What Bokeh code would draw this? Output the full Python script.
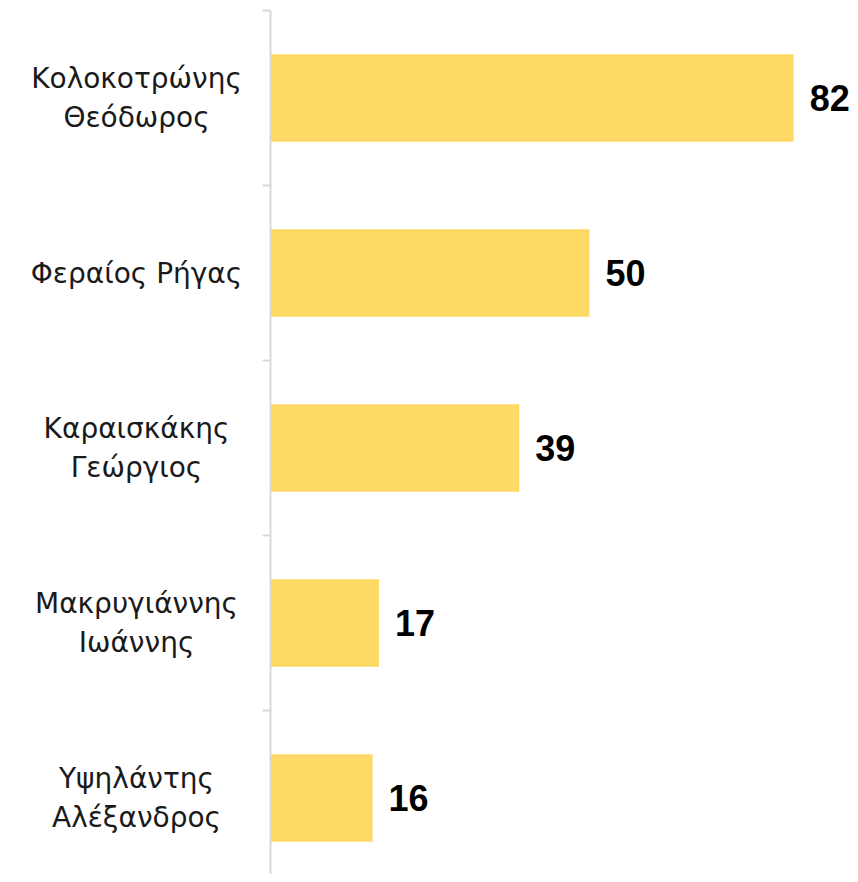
from bokeh.plotting import figure
from bokeh.models import ColumnDataSource, Range1d
from bokeh.core.properties import value
from bokeh.embed import file_html
from bokeh.resources import INLINE

categories = ["Κολοκοτρώνης\nΘεόδωρος", "Φεραίος Ρήγας", "Καραισκάκης\nΓεώργιος",
              "Μακρυγιάννης\nΙωάννης", "Υψηλάντης\nΑλέξανδρος"]
values = [82, 50, 39, 17, 16]
value_labels = [str(v) for v in values]

n = len(categories)
centers = [i + 0.5 for i in range(n)]
bounds = list(range(n + 1))

src = ColumnDataSource(dict(cat=categories, val=values, lab=value_labels,
                            y=centers, zero=[0] * n, labx=[-21.0] * n))

p = figure(width=850, height=874, output_backend="svg", toolbar_location=None,
           x_range=Range1d(-42.32, 90.91), y_range=Range1d(4.937, -0.0571),
           min_border=0, min_border_left=0, min_border_right=0,
           min_border_top=0, min_border_bottom=0)
p.axis.visible = False
p.grid.visible = False
p.outline_line_color = None
p.background_fill_color = "white"
p.border_fill_color = "white"

p.hbar(y="y", left="zero", right="val", height=0.5, source=src,
       fill_color="#FFD966", line_color=None)

# axis line and ticks at band boundaries
p.segment(x0=[0], y0=[bounds[0]], x1=[0], y1=[bounds[-1]], line_color="#d9d9d9", line_width=2)
p.segment(x0=[-1.25] * len(bounds), y0=bounds, x1=[0] * len(bounds), y1=bounds,
          line_color="#d9d9d9", line_width=2)

p.text(x="labx", y="y", text="cat", source=src, text_align="center",
       text_baseline="middle", text_font=value("DejaVu Sans"), text_font_size="28px",
       text_color="#1a1a1a", text_line_height=1.16)

p.text(x="val", y="y", text="lab", source=src, x_offset=16, text_align="left",
       text_baseline="middle", text_font=value("Liberation Sans"), text_font_style="bold",
       text_font_size="36px", text_color="black")

open("out.html", "w").write(file_html(p, INLINE))
